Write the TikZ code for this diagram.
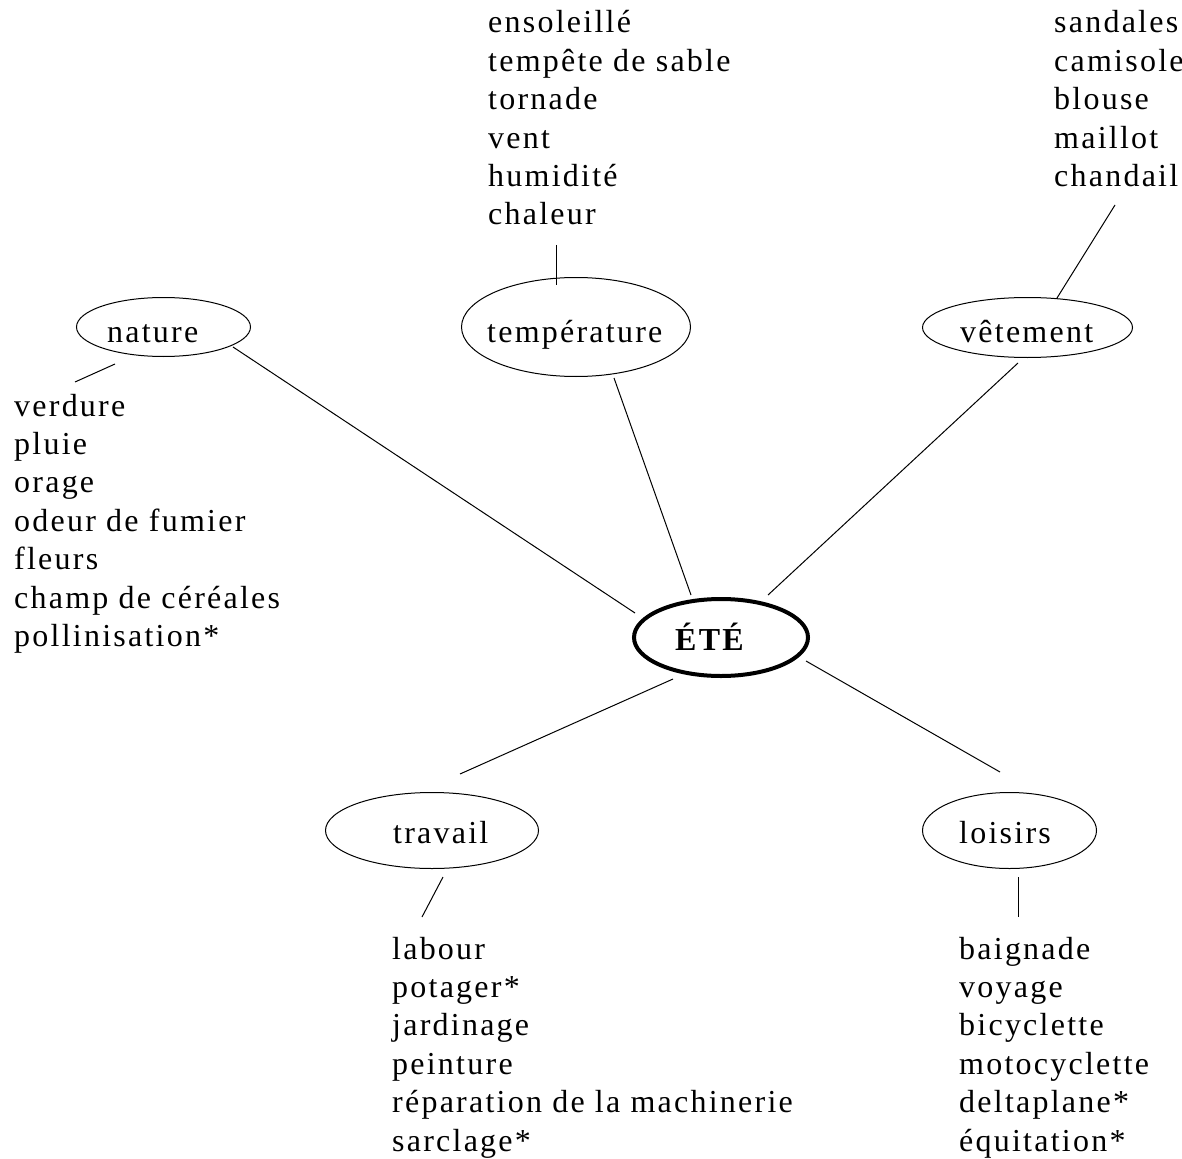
\documentclass[tikz,border=0pt]{standalone}
\usepackage{fontspec}
\setmainfont{Liberation Serif}[LetterSpace=7]
\usetikzlibrary{shapes.geometric}
\tikzset{
  ell/.style={ellipse, draw, line width=1pt, inner sep=0pt},
  bigell/.style={ellipse, draw, line width=4pt, inner sep=0pt},
  txt/.style={anchor=base west, inner sep=0pt, font=\fontsize{32pt}{38.4pt}\selectfont},
  link/.style={line width=1pt}
}
\begin{document}
\begin{tikzpicture}[x=1pt,y=-1pt]
\useasboundingbox (0,0) rectangle (1182,1158);
% ellipses
\node[ell, minimum width=174pt, minimum height=59pt] (nature) at (163.5,327) {};
\node[ell, minimum width=229pt, minimum height=99pt] (temp) at (576,327) {};
\node[ell, minimum width=210pt, minimum height=60pt] (vet) at (1027.5,327.5) {};
\node[bigell, minimum width=174pt, minimum height=77pt] (ete) at (721,637.5) {};
\node[ell, minimum width=213pt, minimum height=76pt] (trav) at (432,830.5) {};
\node[ell, minimum width=174pt, minimum height=76pt] (lois) at (1009.5,830.5) {};
% labels
\node[txt] (natureT) at (107,342) {nature};
\node[txt] (tempT) at (487,342) {température};
\node[txt] (vetT) at (960,342) {vêtement};
\node[txt, font=\fontsize{32pt}{38.4pt}\selectfont\bfseries] (eteT) at (675,650) {ÉTÉ};
\node[txt] (travT) at (393,843) {travail};
\node[txt] (loisT) at (959,843) {loisirs};
% lists
\foreach \t [count=\i] in {verdure, pluie, orage, odeur de fumier, fleurs, champ de céréales, pollinisation*}
  \node[txt] (nat\i) at (14,{416+38.4*(\i-1)}) {\t};
\foreach \t [count=\i] in {ensoleillé, tempête de sable, tornade, vent, humidité, chaleur}
  \node[txt] (tmp\i) at (488,{33+38.4*(\i-1)}) {\t};
\foreach \t [count=\i] in {sandales, camisole, blouse, maillot, chandail}
  \node[txt] (vt\i) at (1054,{33+38.4*(\i-1)}) {\t};
\foreach \t [count=\i] in {labour, potager*, jardinage, peinture, réparation de la machinerie, sarclage*}
  \node[txt] (tr\i) at (392,{959+38.4*(\i-1)}) {\t};
\foreach \t [count=\i] in {baignade, voyage, bicyclette, motocyclette, deltaplane*, équitation*}
  \node[txt] (ls\i) at (959,{959+38.4*(\i-1)}) {\t};
% connector end points
\coordinate (nA) at (233,347);  \coordinate (nB) at (635,613);
\coordinate (tA) at (614,378);  \coordinate (tB) at (691,595);
\coordinate (vA) at (1018,363); \coordinate (vB) at (768,595);
\coordinate (wA) at (673,679);  \coordinate (wB) at (460,774);
\coordinate (lA) at (806,661);  \coordinate (lB) at (1000,772);
\coordinate (n1) at (115,364);  \coordinate (n2) at (75,382);
\coordinate (t1) at (556,245);  \coordinate (t2) at (556,285);
\coordinate (v1) at (1115,205); \coordinate (v2) at (1057,298);
\coordinate (w1) at (443,877);  \coordinate (w2) at (422,917);
\coordinate (l1) at (1018,877); \coordinate (l2) at (1018,917);
% connectors
\draw[link] (nA) -- (nB);
\draw[link] (tA) -- (tB);
\draw[link] (vA) -- (vB);
\draw[link] (wA) -- (wB);
\draw[link] (lA) -- (lB);
\draw[link] (n1) -- (n2);
\draw[link] (t1) -- (t2);
\draw[link] (v1) -- (v2);
\draw[link] (w1) -- (w2);
\draw[link] (l1) -- (l2);
\end{tikzpicture}
\end{document}
